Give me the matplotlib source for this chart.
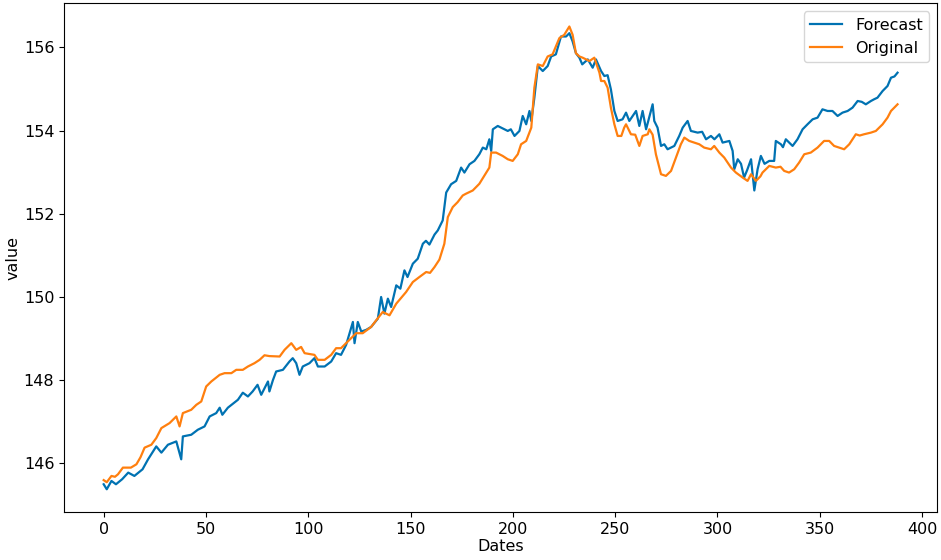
import matplotlib
matplotlib.use("Agg")
import matplotlib.pyplot as plt

# Forecast series (x position, value)
forecast_x = [0, 1.5, 3.8, 6, 9, 12, 15, 19, 21.7, 25.7, 28.2, 31.4, 35.5, 37.9, 38.7,
              42.8, 46, 49.3, 51.8, 55, 56.7, 58, 60.7, 65.6, 68, 70.5, 72.8, 75.2, 77,
              80.3, 81, 82.7, 84.3, 87.6, 90.8, 92.4, 94.1, 95.7, 97.3, 100.6, 103, 104.7,
              108, 111.2, 113.6, 116, 118.5, 121.8, 122.6, 124.2, 125.9, 128.3, 130.7, 134,
              135.6, 137.2, 138.9, 140.5, 143, 145, 147, 148.5, 151.1, 153.5, 156, 157.5,
              159.2, 161.7, 163.3, 165.7, 167.4, 169.8, 172.3, 174.7, 176.3, 178.8, 181.2,
              183.6, 185.3, 187, 188.5, 189.4, 190.2, 192.6, 195.9, 197.5, 199, 200.8, 203.2,
              204.8, 206.5, 208.1, 209, 210.5, 212.2, 214.6, 217, 218.7, 221, 223.5, 226,
              227.6, 229.2, 230.8, 232.5, 233.9, 236.6, 239, 240.6, 243.1, 244.7, 246.3,
              247.9, 249.6, 251.2, 253.6, 255.3, 256.9, 260.2, 261.8, 263.4, 265.1, 268.3,
              269.1, 270.7, 272.4, 274, 275.6, 278.9, 281.3, 283, 285.4, 287, 290.3, 292.5,
              294.4, 296.8, 298.5, 300.9, 302.5, 305.8, 307.4, 308.2, 309.9, 311.5, 313,
              314.5, 316.4, 318, 319.6, 321.2, 323, 325.3, 327.7, 328.5, 331, 332, 333.4,
              336.7, 339.1, 341.6, 344, 346.5, 348.9, 351.3, 353.8, 356.2, 358.7, 361.1,
              363.6, 366, 368.5, 370.5, 372.5, 375, 376.5, 378.2, 380.7, 383.1, 384.8,
              386.5, 388]
forecast = [145.5, 145.38, 145.58, 145.5, 145.62, 145.78, 145.7, 145.86, 146.1, 146.41,
            146.26, 146.45, 146.53, 146.1, 146.65, 146.69, 146.81, 146.89, 147.13, 147.21,
            147.34, 147.17, 147.34, 147.53, 147.7, 147.61, 147.73, 147.89, 147.65, 147.97,
            147.73, 148.0, 148.21, 148.25, 148.45, 148.53, 148.41, 148.13, 148.33, 148.41,
            148.53, 148.33, 148.33, 148.45, 148.65, 148.61, 148.85, 149.4, 148.89, 149.4,
            149.17, 149.21, 149.28, 149.48, 150.0, 149.6, 149.96, 149.76, 150.28, 150.2,
            150.64, 150.48, 150.8, 150.92, 151.28, 151.35, 151.26, 151.5, 151.6, 151.84,
            152.51, 152.71, 152.79, 153.11, 152.99, 153.19, 153.27, 153.43, 153.59, 153.55,
            153.79, 153.51, 154.03, 154.11, 154.03, 153.99, 154.03, 153.87, 153.99, 154.35,
            154.15, 154.47, 154.23, 154.79, 155.55, 155.43, 155.55, 155.78, 155.83, 156.26,
            156.26, 156.34, 156.14, 155.86, 155.75, 155.59, 155.71, 155.51, 155.71, 155.43,
            155.31, 155.33, 154.99, 154.47, 154.23, 154.27, 154.43, 154.23, 154.47, 154.11,
            154.47, 154.03, 154.63, 154.23, 154.07, 153.63, 153.67, 153.55, 153.63, 153.87,
            154.07, 154.23, 153.99, 153.95, 153.97, 153.79, 153.87, 153.79, 153.91, 153.71,
            153.75, 153.51, 153.07, 153.31, 153.2, 152.87, 153.05, 153.31, 152.56, 153.07,
            153.39, 153.2, 153.27, 153.27, 153.75, 153.67, 153.6, 153.79, 153.63, 153.79,
            154.03, 154.15, 154.27, 154.31, 154.51, 154.47, 154.47, 154.35, 154.43, 154.47,
            154.55, 154.71, 154.69, 154.63, 154.71, 154.75, 154.79, 154.95, 155.07, 155.27,
            155.3, 155.39]

# Original series
original_x = [0, 1.5, 3.8, 5.5, 7, 9.4, 13.3, 16, 18, 20, 23.3, 25.7, 28.2, 32.2, 35.5,
              37.1, 38.7, 42.8, 45.3, 47.7, 50.1, 52.6, 56.7, 59.1, 62.4, 64.8, 68, 70.5,
              73.7, 76.2, 78.6, 81, 86, 88.4, 91.7, 94.1, 96.5, 98.2, 103, 104.7, 108, 111.2,
              113.6, 116, 120.1, 123.4, 126.6, 130.7, 133.2, 136.4, 139.7, 143, 147.8, 151.1,
              154.3, 157.6, 159.5, 161.7, 164.1, 166.5, 168.2, 170.6, 173, 175.5, 177, 180.4,
              183.6, 186, 188.5, 189.4, 191.8, 195, 197.5, 199.9, 202.4, 204, 206.5, 209,
              210.5, 212.2, 214.6, 217, 219.4, 222.7, 225.1, 227.6, 229.2, 230.8, 232.5,
              234.1, 237.4, 239.8, 242.3, 243.1, 244.7, 246.3, 247.9, 249.6, 251.2, 253,
              254.4, 255.3, 257.7, 259.8, 261.8, 263.4, 265.9, 266.7, 268.3, 269.9, 272.4,
              274.8, 277.3, 279.7, 282.1, 283.8, 286.2, 288.6, 291.1, 293.5, 296.8, 298.4,
              300.9, 303.3, 306.6, 309, 312.3, 314.7, 316.4, 318.8, 321, 322, 325.3, 328.5,
              330.8, 332.6, 335, 337.5, 339.9, 342.4, 345.6, 348.9, 352.1, 354.6, 357, 359.5,
              361.9, 364.4, 367.6, 369.5, 371.6, 375, 377.4, 380.7, 383.1, 384.8, 388]
original = [145.6, 145.55, 145.7, 145.68, 145.74, 145.9, 145.9, 145.98, 146.15, 146.38,
            146.45, 146.61, 146.85, 146.97, 147.13, 146.89, 147.21, 147.29, 147.41, 147.49,
            147.85, 147.97, 148.13, 148.17, 148.17, 148.25, 148.25, 148.33, 148.41, 148.49,
            148.6, 148.58, 148.57, 148.73, 148.89, 148.73, 148.8, 148.65, 148.61, 148.49,
            148.49, 148.61, 148.77, 148.77, 148.97, 149.13, 149.13, 149.28, 149.44, 149.64,
            149.56, 149.84, 150.12, 150.36, 150.48, 150.6, 150.58, 150.72, 150.9, 151.28,
            151.92, 152.16, 152.28, 152.44, 152.48, 152.56, 152.72, 152.91, 153.11, 153.47,
            153.47, 153.39, 153.31, 153.27, 153.43, 153.67, 153.75, 154.07, 155.03, 155.59,
            155.55, 155.78, 155.83, 156.22, 156.3, 156.5, 156.3, 155.86, 155.78, 155.75,
            155.67, 155.75, 155.39, 155.19, 155.19, 155.03, 154.55, 154.15, 153.87, 153.87,
            154.07, 154.15, 153.91, 153.9, 153.63, 153.87, 153.91, 154.03, 153.9, 153.43,
            152.95, 152.91, 153.03, 153.35, 153.67, 153.83, 153.75, 153.71, 153.67, 153.59,
            153.55, 153.63, 153.47, 153.35, 153.11, 152.99, 152.87, 152.79, 152.95, 152.79,
            152.9, 152.99, 153.15, 153.11, 153.13, 153.03, 152.99, 153.07, 153.23, 153.43,
            153.47, 153.59, 153.75, 153.75, 153.63, 153.59, 153.55, 153.67, 153.91, 153.88,
            153.91, 153.95, 153.99, 154.15, 154.31, 154.47, 154.63]

plt.rcParams['font.size'] = 11.5

fig, ax = plt.subplots(figsize=(9.41, 5.6), dpi=100)
fig.subplots_adjust(left=0.068, right=0.996, top=0.994, bottom=0.085)

ax.plot(forecast_x, forecast, color="#0072B2", lw=1.6, label="Forecast")
ax.plot(original_x, original, color="#FF7F0E", lw=1.6, label="Original")

ax.set_xlabel("Dates", labelpad=1)
ax.set_ylabel("value", labelpad=2)
ax.legend(loc="upper right")

fig.savefig("out.png")
